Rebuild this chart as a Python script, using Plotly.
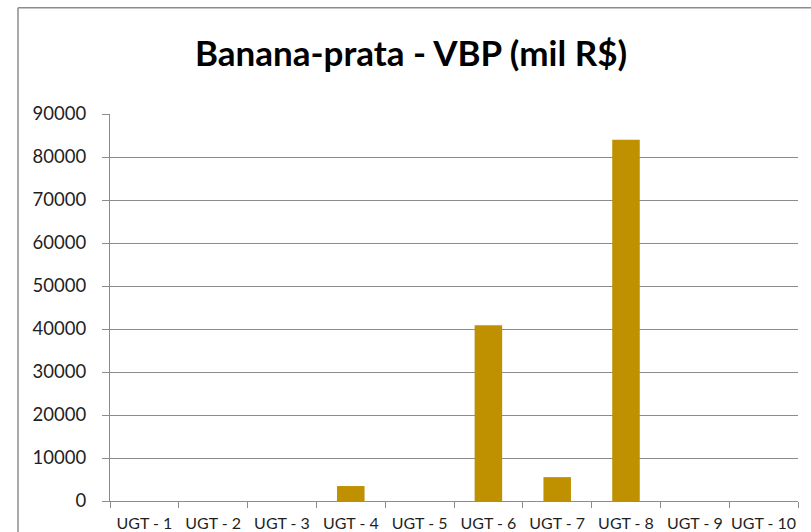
import plotly.graph_objects as go

categories = ["UGT - 1", "UGT - 2", "UGT - 3", "UGT - 4", "UGT - 5",
              "UGT - 6", "UGT - 7", "UGT - 8", "UGT - 9", "UGT - 10"]
values = [0, 0, 0, 3480, 0, 40900, 5550, 84000, 0, 0]
y_ticks = [0, 10000, 20000, 30000, 40000, 50000, 60000, 70000, 80000, 90000]
title_text = "Banana-prata - VBP (mil R$)"

W, H = 811, 532
L, R = 110, 798
T, B = 113.5, 501.5

fig = go.Figure(go.Bar(
    x=categories, y=values,
    marker=dict(color="#BF9000", line=dict(width=0)),
    hoverinfo="skip",
))

pw, ph = R - L, B - T
def px_x(p):
    return (p - L) / pw
def px_y(p):
    return (B - p) / ph

border = "#8C8C8C"
fig.update_layout(
    width=W, height=H,
    margin=dict(l=L, r=W - R, t=T, b=H - B, pad=0),
    paper_bgcolor="white", plot_bgcolor="white",
    bargap=0.6,
    showlegend=False,
    title=dict(text="<b>" + title_text + "</b>",
               font=dict(family="Lato, Liberation Sans, Arial", size=35, color="#000000"),
               x=411 / W, xanchor="center", xref="container",
               y=1 - 41.5 / H, yanchor="top", yref="container"),
    shapes=[
        dict(type="line", xref="paper", yref="paper",
             x0=px_x(18), x1=px_x(18), y0=px_y(7), y1=px_y(540),
             line=dict(color=border, width=1.5)),
        dict(type="line", xref="paper", yref="paper",
             x0=px_x(18), x1=px_x(820), y0=px_y(7), y1=px_y(7),
             line=dict(color=border, width=1.5)),
    ],
)

fig.update_xaxes(
    type="category",
    showline=True, linecolor="#8C8C8C", linewidth=1.3,
    ticks="outside", ticklen=6, tickcolor="#8C8C8C", tickwidth=1.2,
    tickson="boundaries",
    tickangle=0,
    showgrid=False,
    tickfont=dict(family="Lato, Liberation Sans, Arial", size=16, color="#1f1f1f"),
    ticklabelstandoff=8,
    automargin=False,
)
fig.update_yaxes(
    range=[0, 90000],
    tickvals=y_ticks,
    ticktext=[str(v) for v in y_ticks],
    showline=True, linecolor="#8C8C8C", linewidth=1.3,
    ticks="outside", ticklen=7, tickcolor="#8C8C8C", tickwidth=1.2,
    showgrid=True, gridcolor="#8C8C8C", gridwidth=1.3,
    zeroline=False,
    tickfont=dict(family="Lato, Liberation Sans, Arial", size=18.5, color="#1f1f1f"),
    ticklabelstandoff=12,
    automargin=False,
)

fig.write_html("out.html",
               config={"displayModeBar": False},
               post_script="document.body.style.margin='0';document.body.style.padding='0';document.body.style.overflow='hidden';")
